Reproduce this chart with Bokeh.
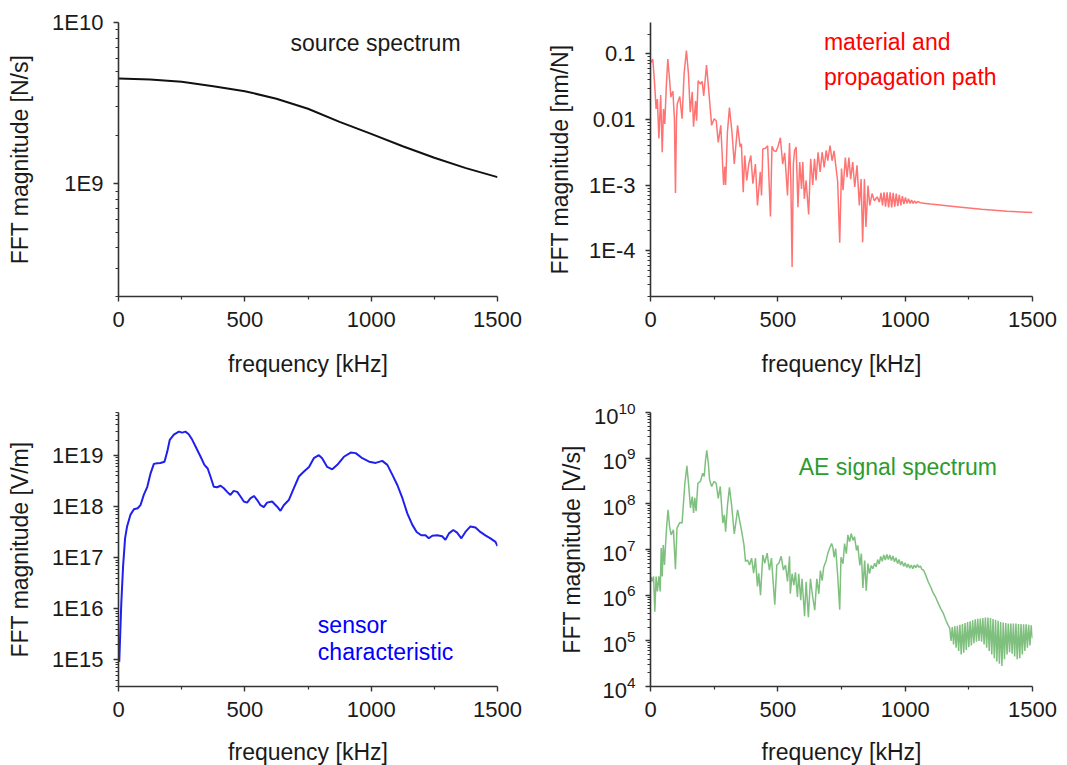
from bokeh.plotting import figure
from bokeh.models import Range1d, FixedTicker, CustomJSTickFormatter, Label
from bokeh.layouts import row, column
from bokeh.embed import file_html
from bokeh.resources import INLINE

# ---------------- data ----------------
# source spectrum [N/s]
src_freq = [0, 125, 250, 375, 500, 625, 750, 875, 1000, 1125, 1250, 1375, 1500]
src_val = [4.50e9, 4.43e9, 4.29e9, 4.02e9, 3.75e9, 3.37e9, 2.92e9, 2.42e9,
           2.04e9, 1.71e9, 1.45e9, 1.25e9, 1.10e9]

# material and propagation path [nm/N], values given as log10
mat_freq = [0, 4, 9, 16, 22, 27, 33, 40, 46, 51, 56, 62, 68, 74, 80, 88, 94, 98, 102, 105,
            115, 124, 132, 141, 149, 156, 164, 169, 177, 181, 187, 196, 203, 209, 220, 232,
            240, 250, 258, 266, 276, 287, 292, 295, 302, 310, 320, 329, 342, 352, 357, 364,
            370, 378, 386, 394, 402, 412, 420, 431, 436, 441, 452, 460, 471, 477, 485, 493,
            501, 510, 519, 527, 538, 546, 551, 556, 561, 566, 572, 579, 586, 593, 598, 604,
            611, 621, 629, 637, 644, 650, 658, 666, 674, 682, 690, 696, 705, 713, 721, 726,
            735, 743, 750, 756, 765, 772, 779, 786, 794, 802, 811, 820, 827, 833, 840, 846,
            854, 861, 870, 879, 890, 899, 905, 911, 917, 923, 929, 935, 941, 947, 953, 959,
            965, 971, 977, 983, 989, 995, 1001, 1007, 1013, 1019, 1025, 1031, 1037, 1043,
            1049, 1060, 1080, 1100, 1200, 1300, 1400, 1500]
mat_log10 = [-1.10, -1.13, -1.08, -1.45, -1.84, -1.69, -2.29, -1.63, -2.50, -1.84, -2.07,
             -1.50, -1.08, -1.35, -1.66, -1.57, -2.00, -3.12, -2.00, -1.76, -1.65, -1.99,
             -1.30, -0.95, -1.30, -1.89, -1.58, -2.11, -1.72, -2.02, -1.41, -1.46, -1.42,
             -1.64, -1.17, -1.71, -2.09, -1.99, -2.02, -2.35, -2.09, -3.00, -2.72, -3.00,
             -2.20, -1.82, -2.20, -2.68, -2.09, -2.42, -2.37, -3.11, -2.55, -2.93, -2.68,
             -2.55, -2.98, -2.68, -3.31, -2.80, -3.16, -2.45, -2.44, -2.40, -3.48, -2.41,
             -2.48, -2.49, -2.41, -2.28, -2.68, -2.51, -3.16, -2.36, -2.93, -4.25, -2.68,
             -2.47, -2.42, -3.34, -2.65, -3.06, -2.65, -3.21, -2.93, -3.45, -2.60, -3.00,
             -2.60, -2.93, -2.50, -2.80, -2.50, -2.73, -2.47, -2.63, -2.40, -2.63, -2.48,
             -2.65, -2.95, -3.88, -2.75, -3.08, -2.58, -2.88, -2.58, -2.91, -2.65, -3.03,
             -2.70, -3.31, -2.91, -3.87, -2.91, -3.64, -3.01, -3.31, -3.13, -3.24, -3.18,
             -3.26, -3.12, -3.31, -3.11, -3.33, -3.11, -3.34, -3.11, -3.34, -3.12, -3.33,
             -3.13, -3.32, -3.15, -3.31, -3.17, -3.29, -3.19, -3.28, -3.21, -3.28, -3.23,
             -3.28, -3.24, -3.28, -3.25, -3.27, -3.28, -3.29, -3.33, -3.37, -3.40, -3.42]

# sensor characteristic [V/m]
sen_freq = [3, 11, 18, 26, 34, 47, 61, 76, 87, 100, 114, 127, 140, 153, 166, 182, 193, 203,
            219, 239, 252, 265, 278, 292, 305, 325, 340, 353, 364, 377, 390, 404, 417, 430,
            443, 456, 470, 483, 496, 509, 522, 536, 549, 562, 575, 588, 608, 628, 641, 654,
            674, 694, 714, 734, 754, 773, 793, 806, 826, 846, 866, 892, 919, 939, 965, 992,
            1018, 1044, 1064, 1084, 1104, 1124, 1143, 1163, 1180, 1198, 1215, 1228, 1242,
            1261, 1281, 1294, 1308, 1325, 1340, 1357, 1373, 1393, 1413, 1432, 1452, 1472,
            1492, 1500]
sen_val = [9.1e14, 1.26e16, 6.6e16, 2.4e17, 4.1e17, 6.9e17, 8.9e17, 9.3e17, 1.07e18, 1.7e18,
           2.45e18, 4.5e18, 6.9e18, 7.1e18, 7.2e18, 7.6e18, 1.2e19, 2.04e19, 2.57e19, 2.95e19,
           2.82e19, 2.95e19, 2.63e19, 2.04e19, 1.51e19, 9.5e18, 6.6e18, 5.6e18, 3.9e18,
           2.45e18, 2.4e18, 2.57e18, 2.3e18, 1.95e18, 1.7e18, 2.04e18, 1.95e18, 1.58e18,
           1.26e18, 1.2e18, 1.45e18, 1.62e18, 1.35e18, 1.07e18, 9.8e17, 1.2e18, 1.26e18,
           1.0e18, 8.3e17, 1.07e18, 1.35e18, 2.3e18, 3.9e18, 4.9e18, 6.0e18, 8.9e18, 1.02e19,
           8.9e18, 6.0e18, 5.4e18, 6.6e18, 9.5e18, 1.15e19, 1.12e19, 8.9e18, 7.6e18, 7.2e18,
           7.9e18, 6.6e18, 4.2e18, 2.63e18, 1.45e18, 7.4e17, 4.4e17, 3.2e17, 2.75e17,
           2.75e17, 2.4e17, 2.7e17, 2.75e17, 2.63e17, 2.24e17, 3.0e17, 3.5e17, 3.1e17,
           2.4e17, 3.2e17, 4.1e17, 3.9e17, 3.2e17, 2.75e17, 2.4e17, 2.04e17, 1.7e17]

# AE signal spectrum [V/s], values given as log10
ae_freq = [2, 6, 12, 17, 22, 27, 33, 38, 42, 46, 50, 55, 59, 64, 69, 75, 81, 90, 98, 104,
           115, 124, 135, 143, 150, 157, 164, 169, 174, 179, 186, 196, 205, 211, 216, 221,
           227, 232, 240, 250, 258, 266, 274, 284, 290, 295, 302, 310, 318, 329, 342, 357,
           367, 373, 381, 389, 397, 405, 412, 420, 425, 432, 441, 449, 458, 467, 475, 488,
           496, 504, 513, 522, 530, 538, 546, 549, 556, 563, 569, 577, 582, 590, 595, 605,
           611, 620, 628, 637, 645, 653, 661, 667, 674, 680, 690, 696, 703, 711, 716, 721,
           727, 735, 743, 748, 756, 762, 769, 775, 782, 788, 795, 801, 809, 814, 822, 828,
           834, 841, 847, 854, 860, 867, 873, 880, 886, 892, 898, 904, 910, 916, 922, 928,
           934, 940, 946, 952, 958, 964, 970, 976, 982, 988, 994, 1000, 1006, 1012, 1018,
           1024, 1030, 1036, 1042, 1048, 1054, 1060, 1066, 1072, 1080, 1090, 1100, 1110,
           1120, 1130, 1140, 1150, 1160, 1168, 1175, 1180, 1185, 1190, 1195, 1200, 1205,
           1210, 1215, 1220, 1225, 1230, 1235, 1240, 1245, 1250, 1255, 1260, 1265, 1270,
           1275, 1280, 1285, 1290, 1295, 1300, 1305, 1310, 1315, 1320, 1325, 1330, 1335,
           1340, 1345, 1350, 1355, 1360, 1365, 1370, 1375, 1380, 1385, 1390, 1395, 1400,
           1405, 1410, 1415, 1420, 1425, 1430, 1435, 1440, 1445, 1450, 1455, 1460, 1465,
           1470, 1475, 1480, 1485, 1490, 1495, 1500]
ae_log10 = [6.40, 6.30, 6.41, 5.64, 6.41, 6.08, 6.41, 6.08, 7.03, 6.41, 7.10, 6.66, 7.10,
            7.55, 7.87, 7.50, 7.32, 7.43, 6.57, 7.47, 7.59, 7.58, 8.45, 8.83, 8.40, 7.91,
            8.16, 7.80, 8.13, 7.84, 8.45, 8.49, 8.67, 8.60, 8.95, 9.17, 8.90, 8.53, 8.38,
            8.49, 8.45, 8.12, 8.38, 7.58, 7.76, 7.39, 7.95, 8.36, 8.00, 7.34, 7.87, 7.43,
            7.10, 6.74, 6.77, 6.66, 6.81, 6.48, 6.81, 6.19, 6.48, 6.00, 6.88, 6.70, 6.92,
            6.55, 6.81, 5.79, 6.66, 6.70, 6.85, 6.55, 6.66, 6.30, 6.85, 6.03, 6.47, 6.22,
            6.50, 5.96, 6.47, 5.89, 6.36, 5.54, 6.29, 5.52, 6.36, 5.96, 5.67, 6.36, 6.03,
            6.54, 6.32, 6.61, 6.76, 6.91, 7.02, 7.13, 7.05, 6.83, 7.02, 6.43, 5.68, 6.83,
            6.69, 7.13, 6.91, 7.32, 7.17, 7.35, 7.20, 7.28, 6.98, 7.09, 6.65, 6.91, 6.16,
            6.76, 6.10, 6.69, 6.47, 6.65, 6.58, 6.70, 6.62, 6.78, 6.68, 6.85, 6.74, 6.88,
            6.77, 6.89, 6.78, 6.88, 6.76, 6.86, 6.73, 6.82, 6.69, 6.78, 6.66, 6.74, 6.63,
            6.71, 6.61, 6.68, 6.59, 6.66, 6.58, 6.66, 6.60, 6.67, 6.61, 6.64, 6.56, 6.55,
            6.45, 6.30, 6.18, 6.05, 5.95, 5.82, 5.70, 5.60, 5.45, 5.35, 5.28, 5.00, 5.30,
            4.92, 5.32, 4.85, 5.33, 4.78, 5.35, 4.70, 5.37, 4.74, 5.39, 4.80, 5.41, 4.86,
            5.43, 4.90, 5.45, 4.95, 5.47, 4.98, 5.48, 5.00, 5.49, 4.98, 5.50, 4.92, 5.51,
            4.85, 5.51, 4.78, 5.50, 4.70, 5.48, 4.62, 5.46, 4.55, 5.44, 4.50, 5.41, 4.45,
            5.40, 4.60, 5.39, 4.70, 5.38, 4.75, 5.38, 4.72, 5.38, 4.66, 5.38, 4.60, 5.37,
            4.62, 5.37, 4.70, 5.36, 4.78, 5.36, 4.85, 5.35, 4.90, 5.34, 5.05]

x_ticks = [0, 500, 1000, 1500]
x_minor_ticks = [250, 750, 1250]

# ---------------- styling helpers ----------------
FONT = "Liberation Sans"
TXT = "#1a1a1a"
AXC = "#333333"
FS_TICK = "22px"
FS = "23px"


def log_minor(lo, hi):
    out = []
    for e in range(-8, 25):
        for m in range(2, 10):
            v = m * 10.0 ** e
            if lo * 0.999 <= v <= hi * 1.001:
                out.append(v)
    return out


E_FORMAT = CustomJSTickFormatter(code="""
const e = Math.round(Math.log10(tick));
if (e === -1) { return "0.1"; }
if (e === -2) { return "0.01"; }
return "1E" + e;
""")


def make_fig(frame_w, left, right, top, bottom, ylo, yhi, ymajor, ylabel,
             y_label_standoff, x_label_standoff, expo=False):
    p = figure(frame_width=frame_w, frame_height=274,
               x_range=Range1d(0, 1500), y_range=Range1d(ylo, yhi),
               y_axis_type="log", output_backend="svg", toolbar_location=None,
               min_border_left=left, min_border_right=right,
               min_border_top=top, min_border_bottom=bottom)
    p.outline_line_color = None
    p.xgrid.visible = False
    p.ygrid.visible = False
    p.background_fill_color = "white"
    p.border_fill_color = "white"

    p.xaxis.ticker = FixedTicker(ticks=x_ticks, minor_ticks=x_minor_ticks)
    p.yaxis.ticker = FixedTicker(ticks=ymajor, minor_ticks=log_minor(ylo, yhi))
    if not expo:
        p.yaxis.formatter = E_FORMAT

    for ax in (p.xaxis[0], p.yaxis[0]):
        ax.axis_line_color = AXC
        ax.axis_line_width = 1.6
        ax.major_tick_line_color = AXC
        ax.major_tick_line_width = 1.4
        ax.minor_tick_line_color = AXC
        ax.minor_tick_line_width = 1.2
        ax.major_tick_out = 5
        ax.major_tick_in = 0
        ax.minor_tick_out = 3
        ax.minor_tick_in = 0
        ax.major_label_text_font = FONT
        ax.major_label_text_font_size = FS_TICK
        ax.major_label_text_color = TXT
        ax.major_label_standoff = 10
        ax.axis_label_text_font = FONT
        ax.axis_label_text_font_size = FS
        ax.axis_label_text_font_style = "normal"
        ax.axis_label_text_color = TXT

    p.xaxis.axis_label = "frequency [kHz]"
    p.xaxis.axis_label_standoff = x_label_standoff
    p.yaxis.axis_label = ylabel
    p.yaxis.axis_label_standoff = y_label_standoff
    return p


def add_text(p, x, y, text, color):
    p.add_layout(Label(x=x, y=y, text=text, text_font=FONT, text_font_size=FS,
                       text_color=color, text_align="left", text_baseline="middle"))


# ---------------- panels ----------------
p1 = make_fig(379, 118, 41, 22, 94, 2e8, 1e10, [1e9, 1e10],
              "FFT magnitude [N/s]", 16, 21)
p1.line(src_freq, src_val, line_color="#111111", line_width=2)
add_text(p1, 681, 7.5e9, "source spectrum", TXT)

p2 = make_fig(382, 112, 25, 22, 94, 2e-5, 0.3, [1e-4, 1e-3, 1e-2, 1e-1],
              "FFT magnitude [nm/N]", 13, 21)
p2.line(mat_freq, [10 ** v for v in mat_log10], line_color="#ff0000",
        line_alpha=0.55, line_width=1.5)
add_text(p2, 681, 0.150, "material and", "#ff0000")
add_text(p2, 681, 0.045, "propagation path", "#ff0000")

p3 = make_fig(379, 118, 41, 22, 78, 3e14, 7e19,
              [1e15, 1e16, 1e17, 1e18, 1e19],
              "FFT magnitude [V/m]", 16, 19)
p3.line(sen_freq, sen_val, line_color="#2020ee", line_width=2)
add_text(p3, 789, 4.8e15, "sensor", "#0000ff")
add_text(p3, 789, 1.44e15, "characteristic", "#0000ff")

p4 = make_fig(382, 112, 25, 22, 78, 1e4, 1e10,
              [1e4, 1e5, 1e6, 1e7, 1e8, 1e9, 1e10],
              "FFT magnitude [V/s]", 6, 19, expo=True)
p4.line(ae_freq, [10 ** v for v in ae_log10], line_color="#2a962a",
        line_alpha=0.6, line_width=1.5)
add_text(p4, 582, 6.3e8, "AE signal spectrum", "#2e9b2e")

layout = column(row(p1, p2), row(p3, p4))

open("out.html", "w").write(file_html(layout, INLINE))
